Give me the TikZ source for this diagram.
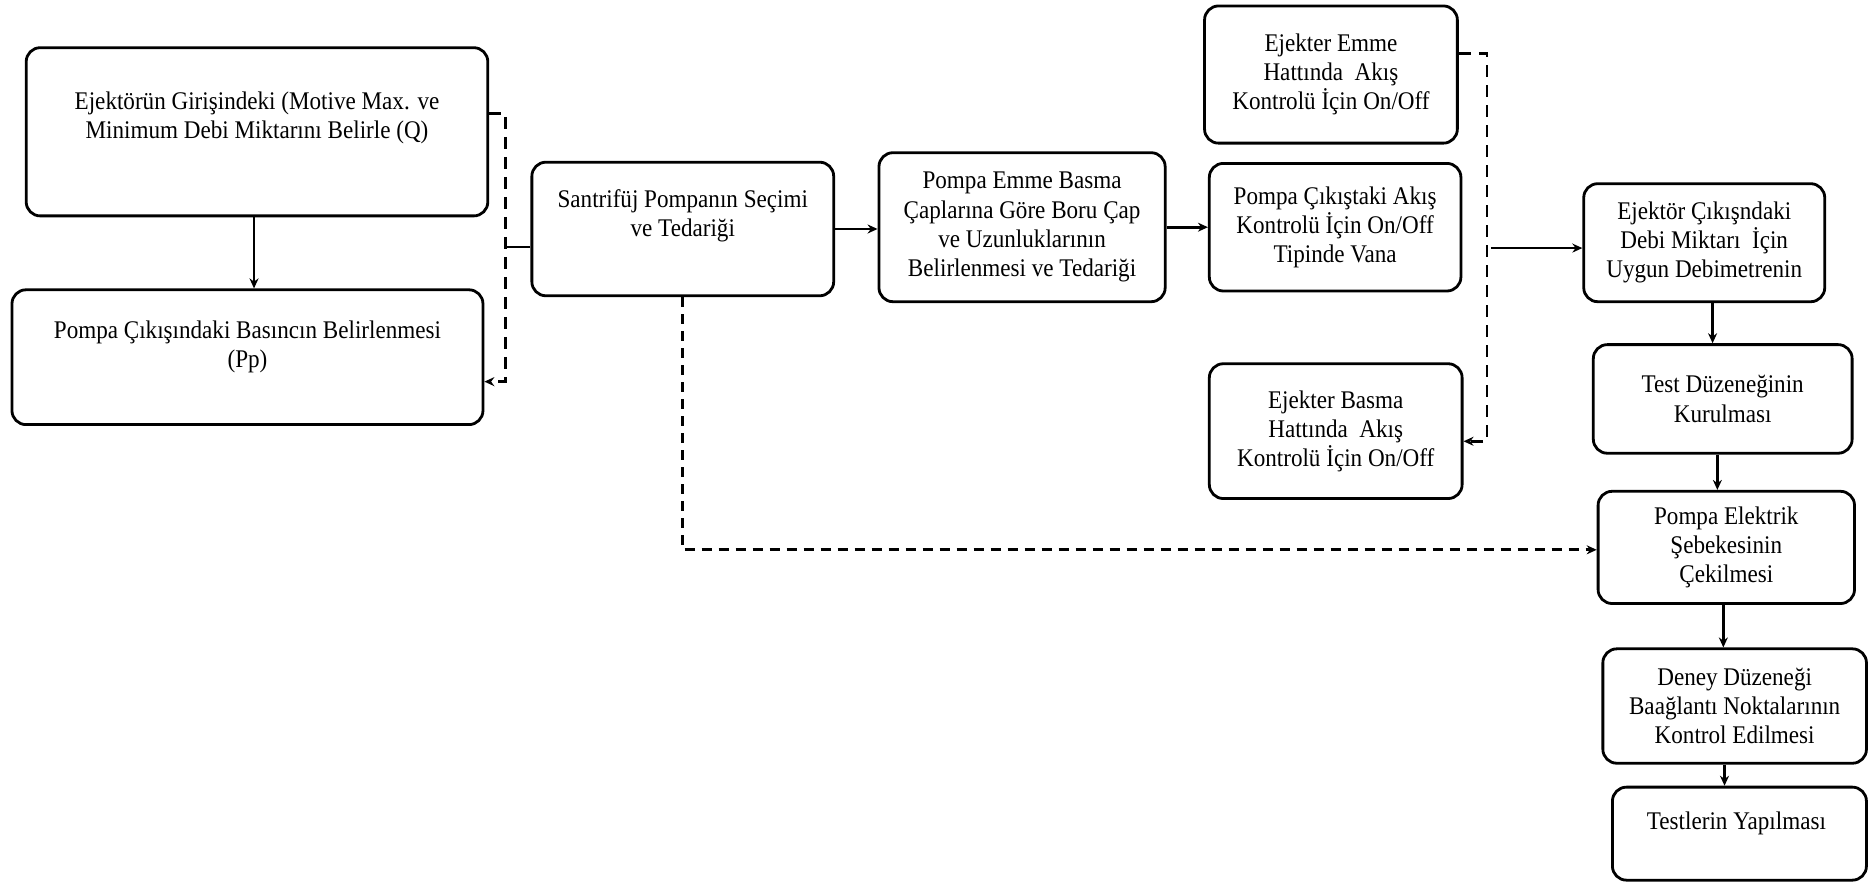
\documentclass[tikz,border=0pt]{standalone}
\usepackage{fontspec}
\setmainfont{Liberation Serif}[FakeStretch=0.91]
\usetikzlibrary{arrows.meta}
\begin{document}
\begin{tikzpicture}[x=0.5963pt,y=-0.5963pt,
 box/.style={draw,line width=1.4pt,rounded corners=7pt,inner sep=0pt},
 txt/.style={align=center,inner sep=0pt,font=\fontsize{12.7}{14.6}\selectfont},
 arr/.style={line width=1.3pt,-{Stealth[length=5pt,width=4.5pt]}},
 dsh/.style={line width=1.3pt,dash pattern=on 6pt off 4pt}]
\useasboundingbox (0,0) rectangle (1568,741);
% boxes
\node[box,minimum width=230.8pt,minimum height=84.1pt] (b1) at (215.5,110.5) {};
\node[txt] (b1t) at (215.5,99) {Ejektörün Girişindeki (Motive Max. ve\\Minimum Debi Miktarını Belirle (Q)};
\node[box,minimum width=235.5pt,minimum height=67.4pt] (b2) at (207.5,299.5) {};
\node[txt] (b2t) at (207.5,291) {Pompa Çıkışındaki Basıncın Belirlenmesi\\(Pp)};
\node[box,minimum width=150.9pt,minimum height=66.8pt] (s) at (572.5,192) {};
\node[txt] (st) at (572.5,181) {Santrifüj Pompanın Seçimi\\ve Tedariği};
\node[box,txt,minimum width=143.1pt,minimum height=74.5pt] (pe) at (857,190.5) {Pompa Emme Basma\\Çaplarına Göre Boru Çap\\ve Uzunluklarının\\Belirlenmesi ve Tedariği};
\node[box,txt,minimum width=126.4pt,minimum height=68.6pt] (ee) at (1116,62.5) {Ejekter Emme\\Hattında~ Akış\\Kontrolü İçin On/Off};
\node[box,txt,minimum width=125.8pt,minimum height=63.8pt] (pc) at (1119.5,190.5) {Pompa Çıkıştaki Akış\\Kontrolü İçin On/Off\\Tipinde Vana};
\node[box,txt,minimum width=126.4pt,minimum height=67.4pt] (eb) at (1120,361.5) {Ejekter Basma\\Hattında~ Akış\\Kontrolü İçin On/Off};
\node[box,txt,minimum width=120.5pt,minimum height=59pt] (ec) at (1429,203.5) {Ejektör Çıkışndaki\\Debi Miktarı~ İçin\\Uygun Debimetrenin};
\node[box,txt,minimum width=129.4pt,minimum height=54.3pt] (td) at (1444.5,334.5) {Test Düzeneğinin\\Kurulması};
\node[box,txt,minimum width=128.2pt,minimum height=56.1pt] (pel) at (1447.5,459) {Pompa Elektrik\\Şebekesinin\\Çekilmesi};
\node[box,txt,minimum width=131.8pt,minimum height=57.2pt] (dd) at (1454.5,592) {Deney Düzeneği\\Baağlantı Noktalarının\\Kontrol Edilmesi};
\node[box,minimum width=127pt,minimum height=46.5pt] (ty) at (1458.5,699) {};
\node[txt] (tyt) at (1456,690) {Testlerin Yapılması};
% coordinates
\coordinate (l1) at (424,95);
\coordinate (l2) at (424,320);
\coordinate (lj) at (424,207);
\coordinate (r1) at (1247,45);
\coordinate (r2) at (1247,370);
\coordinate (rj) at (1250,208);
\coordinate (d1) at (572,461);
\coordinate (a1) at (213,0);
\coordinate (a2) at (1436,0);
\coordinate (a3) at (1440,0);
\coordinate (a4) at (1445,0);
\coordinate (a5) at (1446,0);
% connectors
\draw[arr] (b1.south -| a1) -- (b2.north -| a1);
\draw[dsh,-{Stealth[length=5pt,width=4.5pt]}] (b1.east |- l1) -- (l1) -- (l2) -- (b2.east |- l2);
\draw[line width=1.3pt] (s.west |- lj) -- (lj);
\draw[arr] (s.east) -- (pe.west |- s.east);
\draw[arr] (pe.east) -- (pc.west |- pe.east);
\draw[dsh,-{Stealth[length=5pt,width=4.5pt]}] (ee.east |- r1) -- (r1) -- (r2) -- (eb.east |- r2);
\draw[arr] (rj) -- (ec.west |- rj);
\draw[line width=1.6pt,dash pattern=on 5pt off 3.5pt,-{Stealth[length=5pt,width=4.5pt]}] (s.south -| d1) -- (d1) -- (pel.west |- d1);
\draw[arr] (ec.south -| a2) -- (td.north -| a2);
\draw[arr] (td.south -| a3) -- (pel.north -| a3);
\draw[arr] (pel.south -| a4) -- (dd.north -| a4);
\draw[arr] (dd.south -| a5) -- (ty.north -| a5);
\end{tikzpicture}
\end{document}
